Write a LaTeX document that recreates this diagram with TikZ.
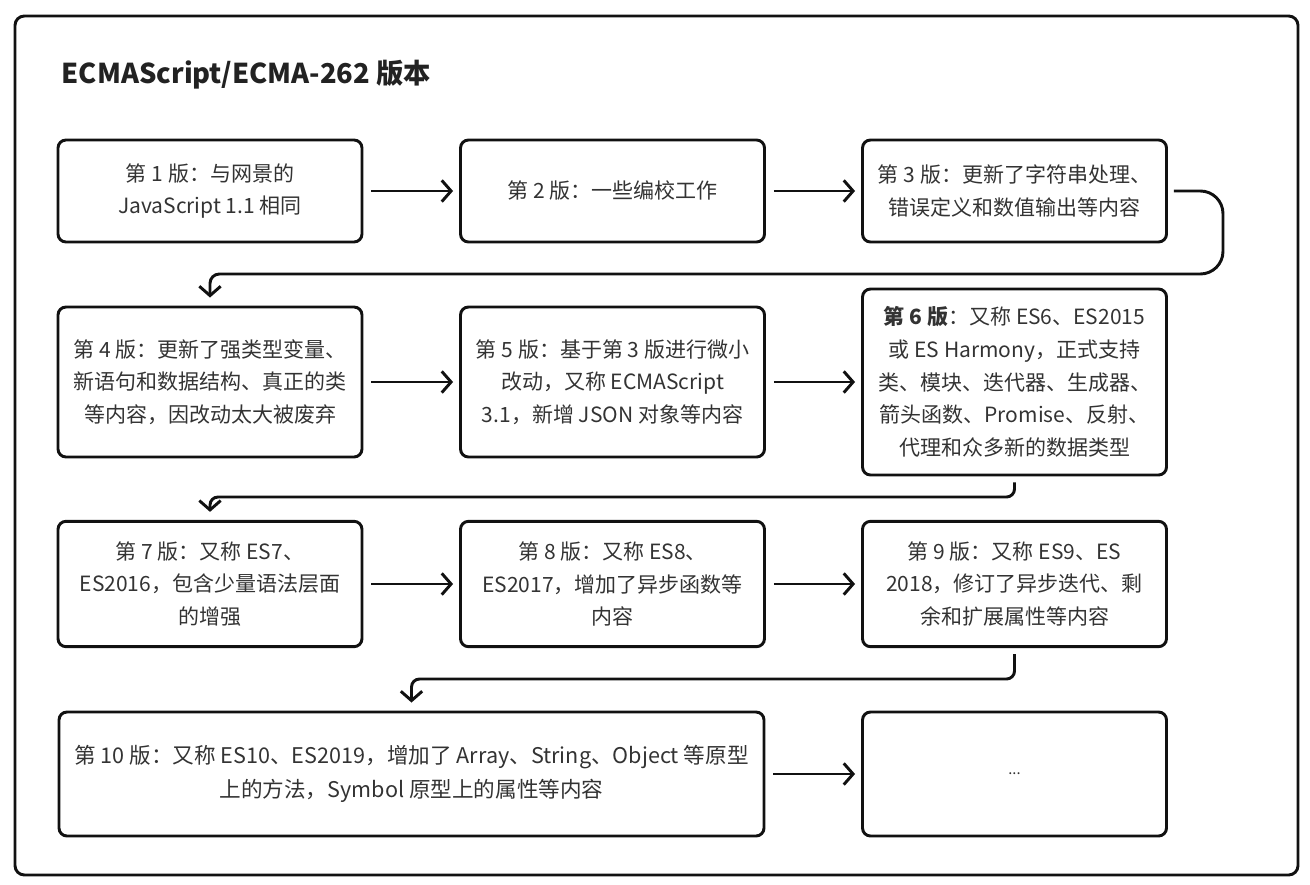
\documentclass[tikz,border=0pt]{standalone}
\usepackage{fontspec}
\setmainfont{Noto Sans CJK SC}
\usetikzlibrary{arrows.meta}
\definecolor{txt}{HTML}{333333}
\definecolor{ln}{HTML}{111111}
\definecolor{ttl}{HTML}{222222}
\begin{document}
\begin{tikzpicture}[x=0.75pt,y=-0.75pt,
  box/.style={draw=ln, line width=2.2pt, rounded corners=6pt, align=center,
    text=txt, font=\fontsize{15.75pt}{24.5pt}\selectfont, inner sep=0pt,
    minimum width=228pt},
  conn/.style={draw=ln, line width=2.2pt, -{Straight Barb[length=7pt,width=16pt]},
    shorten <=6pt, shorten >=4.5pt},
  vconn/.style={conn, shorten >=6pt, shorten <=4.5pt}]
\useasboundingbox (0,0) rectangle (1310,885);
\draw[draw=ln, line width=2.2pt, rounded corners=7pt] (15,16) rectangle (1298,875);
\node[anchor=west, text=ttl, font=\bfseries\fontsize{20.5pt}{22pt}\selectfont] (title) at (57,75) {ECMAScript/ECMA-262 版本};

\node[box, minimum height=76.5pt] (b1) at (210,191) {第 1 版：与网景的\\JavaScript 1.1 相同};
\node[box, minimum height=76.5pt] (b2) at (612.5,191) {第 2 版：一些编校工作};
\node[box, minimum height=76.5pt] (b3) at (1014.5,191) {第 3 版：更新了字符串处理、\\错误定义和数值输出等内容};

\node[box, minimum height=112.5pt] (b4) at (210,382) {第 4 版：更新了强类型变量、\\新语句和数据结构、真正的类\\等内容，因改动太大被废弃};
\node[box, minimum height=112.5pt] (b5) at (612.5,382) {第 5 版：基于第 3 版进行微小\\改动，又称 ECMAScript\\3.1，新增 JSON 对象等内容};
\node[box, minimum height=139.5pt] (b6) at (1014.5,382) {\textbf{第 6 版}：又称 ES6、ES2015\\或 ES Harmony，正式支持\\类、模块、迭代器、生成器、\\箭头函数、Promise、反射、\\代理和众多新的数据类型};

\node[box, minimum height=94pt] (b7) at (210,584) {第 7 版：又称 ES7、\\ES2016，包含少量语法层面\\的增强};
\node[box, minimum height=94pt] (b8) at (612.5,584) {第 8 版：又称 ES8、\\ES2017，增加了异步函数等\\内容};
\node[box, minimum height=94pt] (b9) at (1014.5,584) {第 9 版：又称 ES9、ES\\2018，修订了异步迭代、剩\\余和扩展属性等内容};

\node[box, minimum height=93pt, minimum width=528.75pt, font=\fontsize{16.2pt}{25pt}\selectfont] (b10) at (411.5,774) {第 10 版：又称 ES10、ES2019，增加了 Array、String、Object 等原型\\上的方法，Symbol 原型上的属性等内容};
\node[box, minimum height=93pt, font=\fontsize{11pt}{12pt}\selectfont] (b11) at (1014.5,774) {...};

\draw[conn] (b1) -- (b2);
\draw[conn] (b2) -- (b3);
\draw[conn] (b4) -- (b5);
\draw[conn] (b5) -- (b6.west |- b5.east);
\draw[conn] (b7) -- (b8);
\draw[conn] (b8) -- (b9);
\draw[conn] (b10) -- (b11);

\coordinate (r1) at (1223,191);
\coordinate (r2) at (1223,274);
\coordinate (r3) at (210,274);
\draw[vconn, rounded corners=17pt] (b3.east) -- (r1) -- (r2) [rounded corners=7pt] -- (r3) -- (b4.north);

\coordinate (r4) at (210,497);
\draw[vconn, rounded corners=6pt] (b6.south) |- (r4) -- (b7.north);

\coordinate (r5) at (411.5,679);
\draw[vconn, rounded corners=6pt] (b9.south) |- (r5) -- (b10.north);
\end{tikzpicture}
\end{document}
